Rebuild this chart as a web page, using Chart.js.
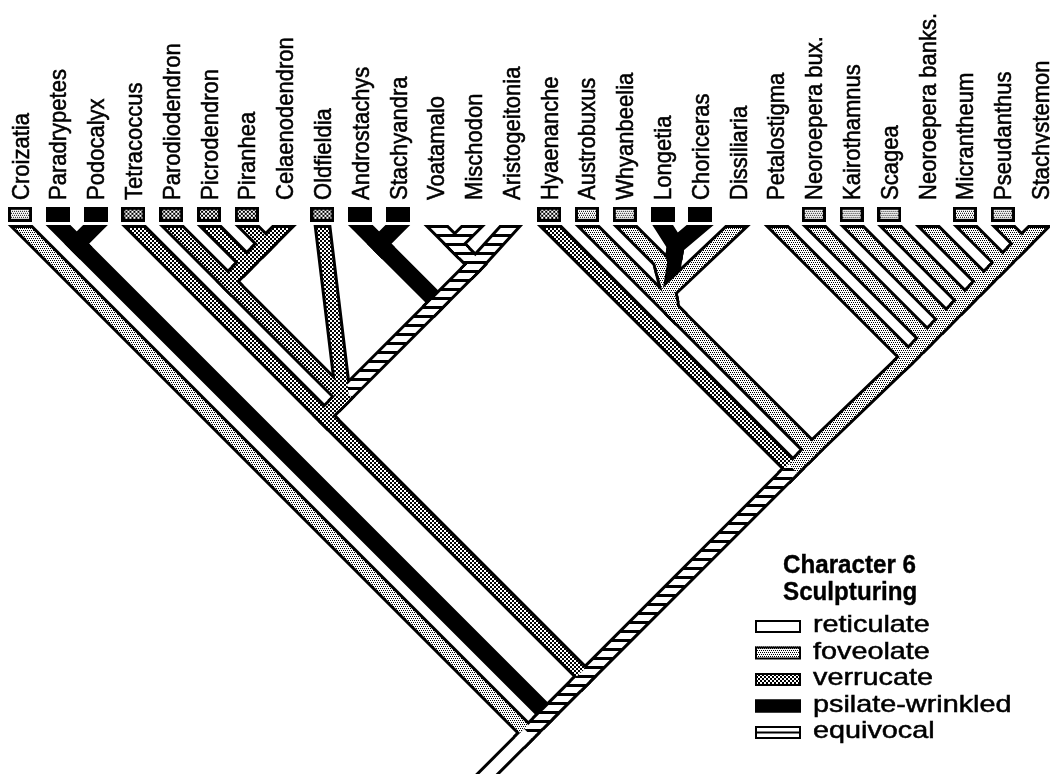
<!DOCTYPE html>
<html>
<head>
<meta charset="utf-8">
<title>Character 6 Sculpturing</title>
<script src="https://cdn.jsdelivr.net/npm/chart.js@4.4.1/dist/chart.umd.min.js"></script>
<style>
  html, body { margin: 0; padding: 0; background: #fff; }
  #wrap { position: relative; width: 1050px; height: 774px; }
</style>
</head>
<body>
<div id="wrap"><canvas id="tree"></canvas></div>
<script>
// Taxa along the top, left to right (x = index)
const taxa = ['Croizatia', 'Paradrypetes', 'Podocalyx', 'Tetracoccus', 'Parodiodendron', 'Picrodendron',
    'Piranhea', 'Celaenodendron', 'Oldfieldia', 'Androstachys', 'Stachyandra', 'Voatamalo', 'Mischodon',
    'Aristogeitonia', 'Hyaenanche', 'Austrobuxus', 'Whyanbeelia', 'Longetia', 'Choriceras', 'Dissiliaria',
    'Petalostigma', 'Neoroepera bux.', 'Kairothamnus', 'Scagea', 'Neoroepera banks.', 'Micrantheum',
    'Pseudanthus', 'Stachystemon'];

// Character states (index used everywhere below)
const stateNames = ['reticulate', 'foveolate', 'verrucate', 'psilate-wrinkled', 'equivocal'];

// State shown in the box over each taxon (null = no box)
const tipStates = [1, 3, 3, 2, 2, 2, 2, null, 2, 3, 3, null, null, null, 2, 1, 1, 3, 3, null, null, 1, 1, 1, null, 1, 1, null];

// Internal nodes: position on the taxon axis and depth below the tips (same unit)
const nodeNames = ['R0', 'N1', 'N2', 'B', 'A', 'PP', 'PC', 'PCe', 'PQ', 'H1', 'AS', 'H2', 'VM', 'N4', 'N5',
    'AC', 'WLD', 'WB', 'LC', 'PR', 'RS6', 'RS5', 'RS4', 'RS3', 'RS2', 'RS1', 'base'];
const nodeX = [13.45, 13.95, 14.95, 8.05, 8.55, 5.5, 6, 6.5, 1.5, 11.05, 9.5, 12.05, 11.5, 20.45, 20.95,
    17.25, 17.15, 16.95, 17.35, 23.5, 24, 24.5, 25, 25.5, 26, 26.5, 11.45];
const nodeDepth = [13.45, 12.95, 11.95, 5.05, 4.55, 1.5, 1, 0.5, 0.5, 2.05, 0.5, 1.05, 0.5, 6.45, 5.95,
    2.25, 1.75, 0.95, 0.55, 3.5, 3, 2.5, 2, 1.5, 1, 0.5, 15.45];

// Branches (child -> parent) with their state, listed in drawing order
const branchChild = ['Paradrypetes', 'Podocalyx', 'PQ', 'Croizatia', 'Piranhea', 'Celaenodendron', 'PCe',
    'Picrodendron', 'PC', 'Parodiodendron', 'Androstachys', 'Stachyandra', 'AS', 'Voatamalo', 'Mischodon',
    'VM', 'Aristogeitonia', 'H2', 'H1', 'PP', 'Oldfieldia', 'Tetracoccus', 'A', 'B', 'Whyanbeelia', 'WB',
    'Longetia', 'Choriceras', 'LC', 'Dissiliaria', 'WLD', 'Austrobuxus', 'AC', 'Stachystemon', 'Pseudanthus',
    'RS1', 'Micrantheum', 'RS2', 'Neoroepera banks.', 'RS3', 'Scagea', 'RS4', 'Kairothamnus', 'RS5',
    'Neoroepera bux.', 'RS6', 'Petalostigma', 'PR', 'Hyaenanche', 'N5', 'N4', 'N2', 'N1', 'R0'];
const branchParent = ['PQ', 'PQ', 'N1', 'R0', 'PCe', 'PCe', 'PC', 'PC', 'PP', 'PP', 'AS', 'AS', 'H1', 'VM', 'VM',
    'H2', 'H2', 'H1', 'A', 'A', 'A', 'B', 'B', 'N2', 'WB', 'WLD', 'LC', 'LC', 'WLD', 'WLD', 'AC', 'AC', 'N5',
    'RS1', 'RS1', 'RS2', 'RS2', 'RS3', 'RS3', 'RS4', 'RS4', 'RS5', 'RS5', 'RS6', 'RS6', 'PR', 'PR', 'N5',
    'N4', 'N4', 'N2', 'N1', 'R0', 'base'];
const branchState = [3, 3, 3, 1, 2, 2, 2, 2, 2, 2, 3, 3, 3, 4, 4, 4, 4, 4, 4, 2, 2, 2, 2, 2, 1, 1, 3, 3, 3,
    1, 1, 1, 1, 1, 1, 1, 1, 1, 1, 1, 1, 1, 1, 1, 1, 1, 1, 1, 2, 1, 4, 4, 4, 0];

const BOX_DEPTH = -0.28;    // taxon boxes sit just above the branch tips
const LABEL_DEPTH = -0.66;  // labels start above the boxes
const TIP_TOP = 225;        // pixel row where branches are cut off

const canvas = document.getElementById('tree');
const ctx = canvas.getContext('2d');

// Halftone tiles for the states
function makeTile(state) {
    const t = document.createElement('canvas');
    const g = t.getContext('2d');
    if (state === 4) {
        t.width = 9; t.height = 9;
        g.fillStyle = '#fff'; g.fillRect(0, 0, 9, 9);
        g.fillStyle = '#000'; g.fillRect(0, 0, 9, 3);
        return t;
    }
    t.width = 4; t.height = 4;
    g.fillStyle = state === 3 ? '#000' : '#fff';
    g.fillRect(0, 0, 4, 4);
    g.fillStyle = '#000';
    if (state === 1) {
        [[0, 0], [2, 0], [1, 2], [3, 2]].forEach(p => g.fillRect(p[0], p[1], 1, 1));
    } else if (state === 2) {
        g.fillRect(0, 0, 2, 2);
        g.fillRect(2, 2, 2, 2);
        g.fillRect(1, 1, 1, 1);
    }
    return t;
}
const tiles = stateNames.map((_, s) => makeTile(s));
const patterns = tiles.map(t => ctx.createPattern(t, 'repeat'));

// Box image over a taxon
function makeBox(state) {
    const c = document.createElement('canvas');
    c.width = 24; c.height = 15;
    const g = c.getContext('2d');
    g.fillStyle = '#000';
    g.fillRect(0, 0, 24, 15);
    g.fillStyle = g.createPattern(tiles[state], 'repeat');
    g.fillRect(3, 3, 18, 9);
    return c;
}

// Position of a taxon or node in data units
function pos(name) {
    const t = taxa.indexOf(name);
    if (t >= 0) return { x: t, y: 0 };
    const n = nodeNames.indexOf(name);
    return { x: nodeX[n], y: nodeDepth[n] };
}

const parentOf = {};
branchChild.forEach((c, k) => { parentOf[c] = branchParent[k]; });

// Polyline for one branch: runs past the tip (clipped later) and a short stub past the parent for the joint
function branchPath(child, parent) {
    const c = pos(child), p = pos(parent);
    const pts = [];
    if (taxa.includes(child)) {
        const dx = c.x - p.x, dy = c.y - p.y, len = Math.hypot(dx, dy);
        pts.push({ x: c.x + dx / len * 0.6, y: c.y + dy / len * 0.6 });
    }
    pts.push(c, p);
    const gp = parentOf[parent];
    if (gp) {
        const g = pos(gp);
        const dx = g.x - p.x, dy = g.y - p.y, len = Math.hypot(dx, dy);
        pts.push({ x: p.x + dx / len * 0.35, y: p.y + dy / len * 0.35 });
    }
    return pts;
}

const lineDefaults = {
    showLine: true,
    pointRadius: 0,
    borderCapStyle: 'butt',
    borderJoinStyle: 'miter',
    tension: 0,
    fill: false
};

// Black outlines first, then the fills on top
const datasets = [];
branchChild.forEach((child, k) => {
    const pts = branchPath(child, branchParent[k]);
    datasets.push(Object.assign({}, lineDefaults, {
        data: pts,
        borderColor: '#000',
        borderWidth: 17.5,
        order: 5000,
        clip: { left: false, right: false, bottom: false, top: -TIP_TOP }
    }));
    datasets.push(Object.assign({}, lineDefaults, {
        data: pts,
        borderColor: patterns[branchState[k]],
        borderWidth: 11.5,
        order: 1000 - k,
        clip: { left: false, right: false, bottom: false, top: -(TIP_TOP + 3) }
    }));
});

// Taxon boxes
const boxTaxa = taxa.map((_, i) => i).filter(i => tipStates[i] !== null);
datasets.push({
    data: boxTaxa.map(i => ({ x: i, y: BOX_DEPTH })),
    pointStyle: boxTaxa.map(i => makeBox(tipStates[i])),
    pointRadius: 10,
    showLine: false,
    order: 0,
    clip: false
});

// Draw text scaled horizontally (the scanned figure is a bit wide), slightly heavier like the print
function drawStretched(g, text, x, y, font, sx, weight) {
    g.save();
    g.font = font;
    g.translate(x, y);
    g.scale(sx, 1);
    g.fillText(text, 0, 0);
    if (weight) {
        g.lineWidth = weight;
        g.strokeStyle = '#000';
        g.strokeText(text, 0, 0);
    }
    g.restore();
}

// Taxon names, rotated to read upwards
const labelPlugin = {
    id: 'taxonLabels',
    afterDatasetsDraw(chart) {
        const g = chart.ctx;
        const xs = chart.scales.x, ys = chart.scales.y;
        g.save();
        g.fillStyle = '#000';
        g.strokeStyle = '#000';
        g.lineWidth = 0.5;
        g.font = '22px "Liberation Sans", Arial, sans-serif';
        g.textAlign = 'left';
        g.textBaseline = 'alphabetic';
        taxa.forEach((name, i) => {
            g.save();
            g.translate(xs.getPixelForValue(i) + 8.5, ys.getPixelForValue(LABEL_DEPTH));
            g.scale(1.12, 1);
            g.rotate(-Math.PI / 2);
            g.fillText(name, 0, 0);
            g.strokeText(name, 0, 0);
            g.restore();
        });
        g.restore();
    }
};

// Legend block in the lower right
const legendPlugin = {
    id: 'stateLegend',
    afterDraw(chart) {
        const g = chart.ctx;
        g.save();
        g.fillStyle = '#000';
        g.textBaseline = 'alphabetic';
        const bold = 'bold 26px "Liberation Sans", Arial, sans-serif';
        drawStretched(g, 'Character 6', 783, 573, bold, 0.93, 0.4);
        drawStretched(g, 'Sculpturing', 783, 600, bold, 0.93, 0.4);
        stateNames.forEach((label, k) => {
            const base = 632 + k * 26.5;
            const top = base - 12;
            g.fillStyle = k === 4 ? '#fff' : patterns[k];
            g.fillRect(755, top, 46, 13);
            g.strokeStyle = '#000';
            g.lineWidth = 2;
            g.strokeRect(756, top + 1, 44, 11);
            if (k === 4) {
                g.beginPath();
                g.moveTo(756, top + 6.5);
                g.lineTo(800, top + 6.5);
                g.stroke();
            }
            g.fillStyle = '#000';
            drawStretched(g, label, 813, base, '24px "Liberation Sans", Arial, sans-serif', 1.2, 0.5);
        });
        g.restore();
    }
};

// Create chart
new Chart(ctx, {
    type: 'scatter',
    data: { datasets: datasets },
    options: {
        responsive: true,
        maintainAspectRatio: false,
        animation: false,
        events: [],
        layout: { padding: 0, autoPadding: false },
        scales: {
            x: { type: 'linear', display: false, min: -0.53, max: 27.25 },
            y: { type: 'linear', display: false, reverse: true, min: -5.95, max: 14.53 }
        },
        plugins: {
            legend: { display: false },
            tooltip: { enabled: false }
        }
    },
    plugins: [labelPlugin, legendPlugin]
});
</script>
</body>
</html>
